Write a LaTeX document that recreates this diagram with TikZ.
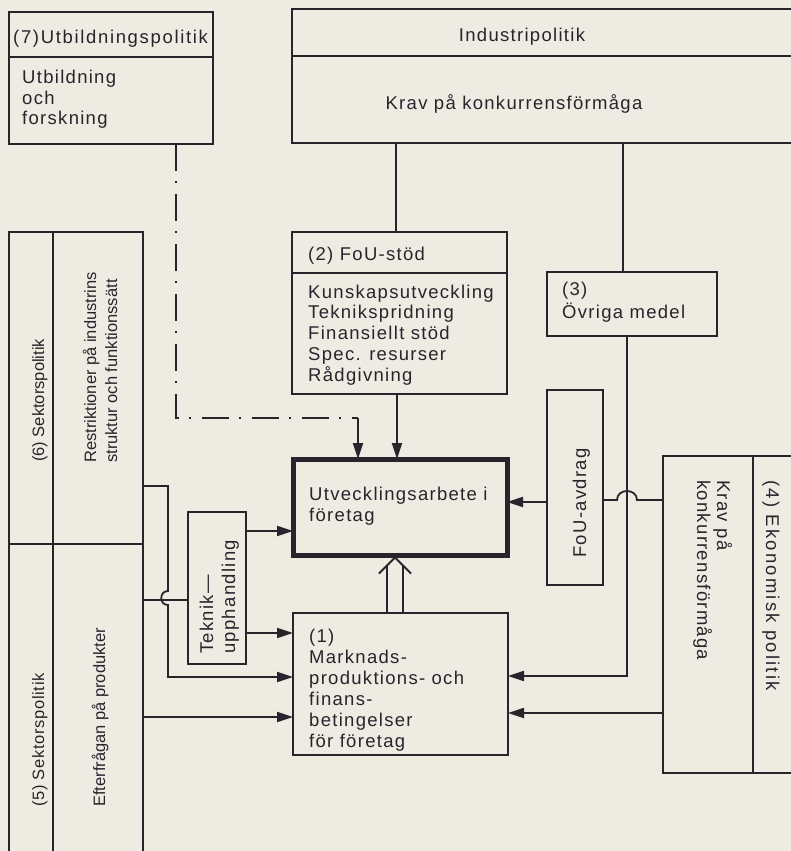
\documentclass[tikz,border=0pt]{standalone}
\usepackage{fontspec}
\setmainfont{Liberation Sans}[LetterSpace=7]
\usetikzlibrary{arrows.meta}
\definecolor{paper}{RGB}{238,236,226}
\definecolor{ink}{RGB}{40,36,44}
\begin{document}
\begin{tikzpicture}[x=1pt,y=-1pt,
  box/.style={draw=ink, line width=1.8pt, anchor=north west, inner sep=0pt, outer sep=0pt},
  thickbox/.style={box, line width=5pt},
  txt/.style={text=ink, inner sep=0pt, anchor=base west, font=\fontsize{18.5}{21}\selectfont},
  stxt/.style={txt, font=\fontsize{16.5}{19}\selectfont\addfontfeature{LetterSpace=0}},
  ctxt/.style={txt, anchor=base},
  conn/.style={draw=ink, line width=1.8pt},
  arr/.style={conn, -{Triangle[length=16pt,width=10pt]}},
  dd/.style={conn, dash pattern=on 27pt off 10pt on 2pt off 11pt},
]
\fill[paper] (0,0) rectangle (791,851);
\useasboundingbox (0,0) rectangle (791,851);

% boxes
\node[box, minimum width=204pt, minimum height=132pt] (b7) at (9,12) {};
\draw[conn] (9,57) -- (213,57);
\node[box, minimum width=510pt, minimum height=134pt] (ind) at (292,9) {};
\draw[conn] (292,56) -- (802,56);
\node[box, minimum width=215pt, minimum height=162pt] (fou) at (292,232) {};
\draw[conn] (292,273) -- (507,273);
\node[box, minimum width=170pt, minimum height=64pt] (b3) at (547,272) {};
\node[thickbox, minimum width=214pt, minimum height=96pt] (utv) at (293,459) {};
\node[box, minimum width=56pt, minimum height=195pt] (avd) at (547,390) {};
\node[box, minimum width=140pt, minimum height=317pt] (b4) at (663,456) {};
\draw[conn] (753,456) -- (753,773);
\node[box, minimum width=134pt, minimum height=312pt] (b6) at (9,232) {};
\node[box, minimum width=134pt, minimum height=320pt] (b5) at (9,544) {};
\draw[conn] (53,232) -- (53,860);
\node[box, minimum width=58pt, minimum height=152pt] (tek) at (188,512) {};
\node[box, minimum width=215pt, minimum height=142pt] (b1) at (293,613) {};

% texts
\node[txt, font=\fontsize{18.5}{21}\selectfont\addfontfeature{LetterSpace=9}] (t7a) at (13,44) {(7)Utbildningspolitik};
\node[txt] (t7b) at (22,84) {Utbildning};
\node[txt] (t7c) at (22,104) {och};
\node[txt] (t7d) at (22,124) {forskning};
\node[ctxt] (tia) at (522,42) {Industripolitik};
\node[ctxt] (tib) at (514,109) {Krav på konkurrensförmåga};
\node[txt] (t2a) at (308,260) {(2) FoU-stöd};
\node[txt] (t2b) at (308,298) {Kunskapsutveckling};
\node[txt] (t2c) at (308,318) {Teknikspridning};
\node[txt] (t2d) at (308,339) {Finansiellt stöd};
\node[txt] (t2e) at (308,360) {Spec. resurser};
\node[txt] (t2f) at (308,381) {Rådgivning};
\node[txt] (t3a) at (562,295) {(3)};
\node[txt] (t3b) at (562,318) {Övriga medel};
\node[txt] (tua) at (309,500) {Utvecklingsarbete i};
\node[txt] (tub) at (309,521) {företag};
\node[txt] (t1a) at (309,642) {(1)};
\node[txt] (t1b) at (309,663) {Marknads-};
\node[txt] (t1c) at (309,684) {produktions- och};
\node[txt] (t1d) at (309,705) {finans-};
\node[txt] (t1e) at (309,726) {betingelser};
\node[txt] (t1f) at (309,747) {för företag};
\node[txt, rotate=90] (tta) at (213,654) {Teknik—};
\node[txt, rotate=90] (ttb) at (235,654) {upphandling};
\node[txt, rotate=90] (tav) at (586,558) {FoU-avdrag};
\node[txt, rotate=-90, font=\fontsize{18.5}{21}\selectfont\addfontfeature{LetterSpace=12}] (t4a) at (766,480) {(4) Ekonomisk politik};
\node[txt, rotate=-90] (t4b) at (717,480) {Krav på};
\node[txt, rotate=-90] (t4c) at (697,480) {konkurrensförmåga};
\node[stxt, rotate=90] (t6a) at (44,462) {(6) Sektorspolitik};
\node[stxt, rotate=90] (t6b) at (96,463) {Restriktioner på industrins};
\node[stxt, rotate=90] (t6c) at (117,463) {struktur och funktionssätt};
\node[stxt, rotate=90, font=\fontsize{16.5}{19}\selectfont\addfontfeature{LetterSpace=4}] (t5a) at (44,807) {(5) Sektorspolitik};
\node[stxt, rotate=90] (t5b) at (105,807) {Efterfrågan på produkter};

% connectors
\draw[conn] ([xshift=-3.5pt]fou.north) -- ([xshift=-3.5pt]fou.north |- ind.south);
\draw[conn] ([xshift=-9pt]b3.north) -- ([xshift=-9pt]b3.north |- ind.south);
\coordinate (dc) at (176,418);
\coordinate (dk) at (358,418);
\draw[dd] ([xshift=65pt]b7.south) -- (dc) -- (dk);
\draw[arr] (dk) -- (dk |- utv.north);
\draw[arr] ([xshift=-2.5pt]fou.south) -- ([xshift=-2.5pt]fou.south |- utv.north);
\draw[arr] ([yshift=-14.5pt]avd.west) coordinate (p) -- (p -| utv.east);
\draw[arr] ([xshift=-5pt]b3.south) -- ++(0,340) coordinate (q) -- (q -| b1.east);
\coordinate (h1) at (637,500);
\coordinate (h2) at (617,500);
\draw[conn] ([yshift=114.5pt]b4.west) -- (h1) .. controls (637,488) and (617,488) .. (h2) -- (h2 -| avd.east);
\draw[arr] ([yshift=-98.5pt]b4.west) coordinate (r) -- (r -| b1.east);
\coordinate (k0) at (168,486);
\coordinate (k1) at (168,677);
\draw[arr] ([yshift=-98pt]b6.east) -- (k0) -- (168,591) .. controls (159,591) and (159,605) .. (168,605) -- (k1) -- (k1 -| b1.west);
\draw[conn] ([yshift=104pt]b5.east) coordinate (s) -- (s -| tek.west);
\draw[arr] ([yshift=-13pt]b5.east) coordinate (s2) -- (s2 -| b1.west);
\draw[arr] ([yshift=57pt]tek.east) coordinate (u1) -- (u1 -| utv.west);
\draw[arr] ([yshift=-45pt]tek.east) coordinate (u2) -- (u2 -| b1.west);
% double open arrow
\coordinate (tip) at ([xshift=-5pt,yshift=-2.5pt]utv.south);
\draw[conn] ([xshift=-13.5pt]b1.north) -- ++(0,-48);
\draw[conn] ([xshift=2.5pt]b1.north) -- ++(0,-48);
\draw[conn] (tip) ++(-16,16) -- (tip) -- ++(16,16);
\end{tikzpicture}
\end{document}
